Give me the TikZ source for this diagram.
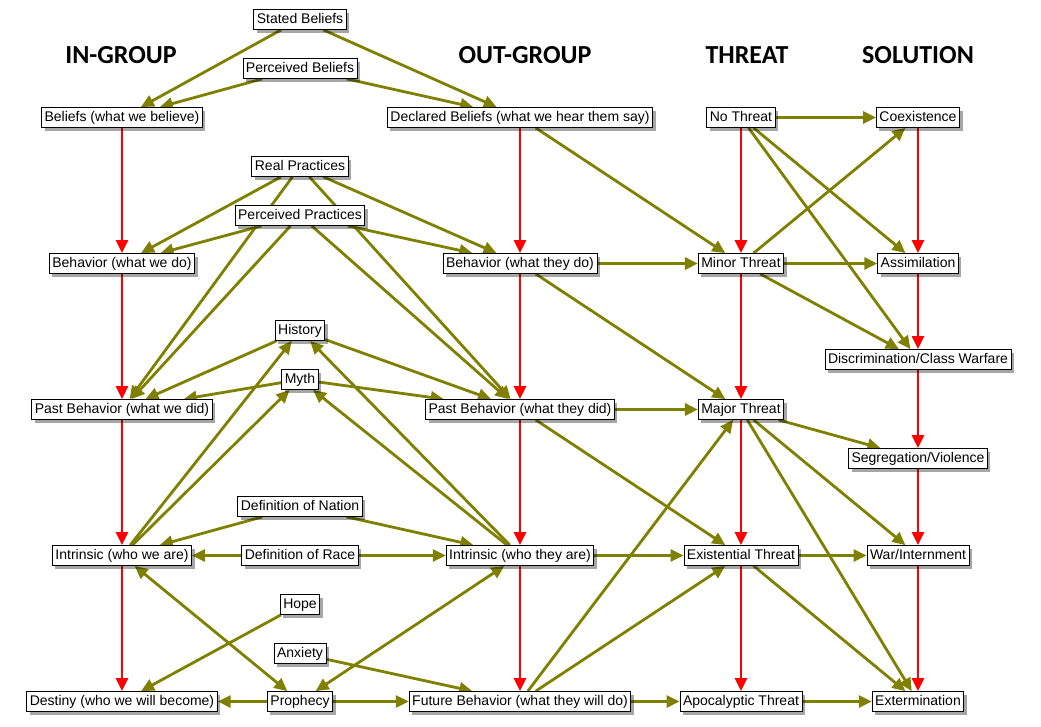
\documentclass[tikz,border=0pt]{standalone}
\usepackage{fontspec}
\setmainfont{Liberation Sans}
\newfontfamily\hdrfont{Carlito}
\usetikzlibrary{arrows.meta,shadows,backgrounds}
\definecolor{olivec}{RGB}{128,128,0}
\definecolor{redc}{RGB}{255,0,0}
\begin{document}
\begin{tikzpicture}[x=1pt,y=-1pt,
  box/.style={draw=black, line width=0.8pt, fill=white, inner xsep=3pt, inner ysep=0pt,
    minimum height=20pt, text height=10pt, text depth=3pt, yshift=-1.5pt,
    font=\fontsize{14}{16}\selectfont,
    drop shadow={shadow xshift=3pt, shadow yshift=-3pt, fill=black, opacity=0.35}},
  hdr/.style={font=\hdrfont\bfseries\fontsize{26}{30}\selectfont},
  ol/.style={draw=olivec, line width=2.8pt, -{Triangle[length=13pt,width=12pt]}},
  olb/.style={draw=olivec, line width=2.8pt, {Triangle[length=13pt,width=12pt]}-{Triangle[length=13pt,width=12pt]}},
  rd/.style={draw=redc, line width=2.8pt, -{Triangle[length=13pt,width=12pt]}},
]
\useasboundingbox (0,0) rectangle (1041,726);

% headers
\node[hdr] (hIn) at (121,55) {IN-GROUP};
\node[hdr] (hOut) at (525,55) {OUT-GROUP};
\node[hdr] (hThr) at (747,55) {THREAT};
\node[hdr] (hSol) at (918,55) {SOLUTION};

% nodes
\node[box] (stated) at (300,18) {Stated Beliefs};
\node[box] (pbel) at (300,67) {Perceived Beliefs};
\node[box] (bel) at (122,116) {Beliefs (what we believe)};
\node[box] (dbel) at (520,116) {Declared Beliefs (what we hear them say)};
\node[box] (noth) at (741,116) {No Threat};
\node[box] (coex) at (918,116) {Coexistence};
\node[box] (real) at (300,165) {Real Practices};
\node[box] (pprac) at (300,214) {Perceived Practices};
\node[box] (bwe) at (122,262) {Behavior (what we do)};
\node[box] (bthey) at (520,262) {Behavior (what they do)};
\node[box] (minor) at (741,262) {Minor Threat};
\node[box] (assim) at (918,262) {Assimilation};
\node[box] (hist) at (300,329) {History};
\node[box] (discr) at (918,358) {Discrimination/Class Warfare};
\node[box] (myth) at (300,378) {Myth};
\node[box] (pwe) at (122,408) {Past Behavior (what we did)};
\node[box] (pthey) at (520,408) {Past Behavior (what they did)};
\node[box] (major) at (741,408) {Major Threat};
\node[box] (segr) at (918,457) {Segregation/Violence};
\node[box] (dnat) at (300,505) {Definition of Nation};
\node[box] (iwe) at (122,554) {Intrinsic (who we are)};
\node[box] (drace) at (300,554) {Definition of Race};
\node[box] (ithey) at (520,554) {Intrinsic (who they are)};
\node[box] (exist) at (741,554) {Existential Threat};
\node[box] (war) at (918,554) {War/Internment};
\node[box] (hope) at (300,603) {Hope};
\node[box] (anx) at (300,652) {Anxiety};
\node[box] (dest) at (122,700) {Destiny (who we will become)};
\node[box] (proph) at (300,700) {Prophecy};
\node[box] (fut) at (520,700) {Future Behavior (what they will do)};
\node[box] (apoc) at (741,700) {Apocalyptic Threat};
\node[box] (exterm) at (918,700) {Extermination};

\begin{scope}[on background layer]
\fill[white] (0,0) rectangle (1041,726);
% red chains
\draw[rd] (bel) -- (bwe);
\draw[rd] (bwe) -- (pwe);
\draw[rd] (pwe) -- (iwe);
\draw[rd] (iwe) -- (dest);
\draw[rd] (dbel) -- (bthey);
\draw[rd] (bthey) -- (pthey);
\draw[rd] (pthey) -- (ithey);
\draw[rd] (ithey) -- (fut);
\draw[rd] (noth) -- (minor);
\draw[rd] (minor) -- (major);
\draw[rd] (major) -- (exist);
\draw[rd] (exist) -- (apoc);
\draw[rd] (coex) -- (assim);
\draw[rd] (assim) -- (discr);
\draw[rd] (discr) -- (segr);
\draw[rd] (segr) -- (war);
\draw[rd] (war) -- (exterm);
% olive
\draw[ol] (stated) -- (bel);
\draw[ol] (stated) -- (dbel);
\draw[ol] (pbel) -- (bel);
\draw[ol] (pbel) -- (dbel);
\draw[ol] (dbel) -- (minor);
\draw[ol] (noth) -- (coex);
\draw[ol] (noth) -- (assim);
\draw[ol] (noth) -- (discr);
\draw[ol] (minor) -- (coex);
\draw[ol] (bthey) -- (minor);
\draw[ol] (minor) -- (assim);
\draw[ol] (minor) -- (discr);
\draw[ol] (real) -- (bwe);
\draw[ol] (real) -- (bthey);
\draw[ol] (real) -- (pwe);
\draw[ol] (real) -- (pthey);
\draw[ol] (pprac) -- (bwe);
\draw[ol] (pprac) -- (bthey);
\draw[ol] (pprac) -- (pwe);
\draw[ol] (pprac) -- (pthey);
\draw[ol] (hist) -- (pwe);
\draw[ol] (hist) -- (pthey);
\draw[ol] (myth) -- (pwe);
\draw[ol] (myth) -- (pthey);
\draw[ol] (iwe) -- (hist);
\draw[ol] (iwe) -- (myth);
\draw[ol] (ithey) -- (hist);
\draw[ol] (ithey) -- (myth);
\draw[ol] (dnat) -- (iwe);
\draw[ol] (dnat) -- (ithey);
\draw[ol] (drace) -- (iwe);
\draw[ol] (drace) -- (ithey);
\draw[ol] (bthey) -- (major);
\draw[ol] (pthey) -- (major);
\draw[ol] (pthey) -- (exist);
\draw[ol] (major) -- (segr);
\draw[ol] (major) -- (war);
\draw[ol] (major) -- (exterm);
\draw[ol] (ithey) -- (exist);
\draw[ol] (exist) -- (war);
\draw[ol] (exist) -- (exterm);
\draw[ol] (fut) -- (major);
\draw[ol] (fut) -- (exist);
\draw[ol] (fut) -- (apoc);
\draw[ol] (apoc) -- (exterm);
\draw[olb] (iwe) -- (proph);
\draw[olb] (ithey) -- (proph);
\draw[ol] (hope) -- (dest);
\draw[ol] (anx) -- (fut);
\draw[ol] (proph) -- (dest);
\draw[ol] (proph) -- (fut);
\end{scope}
\end{tikzpicture}
\end{document}
